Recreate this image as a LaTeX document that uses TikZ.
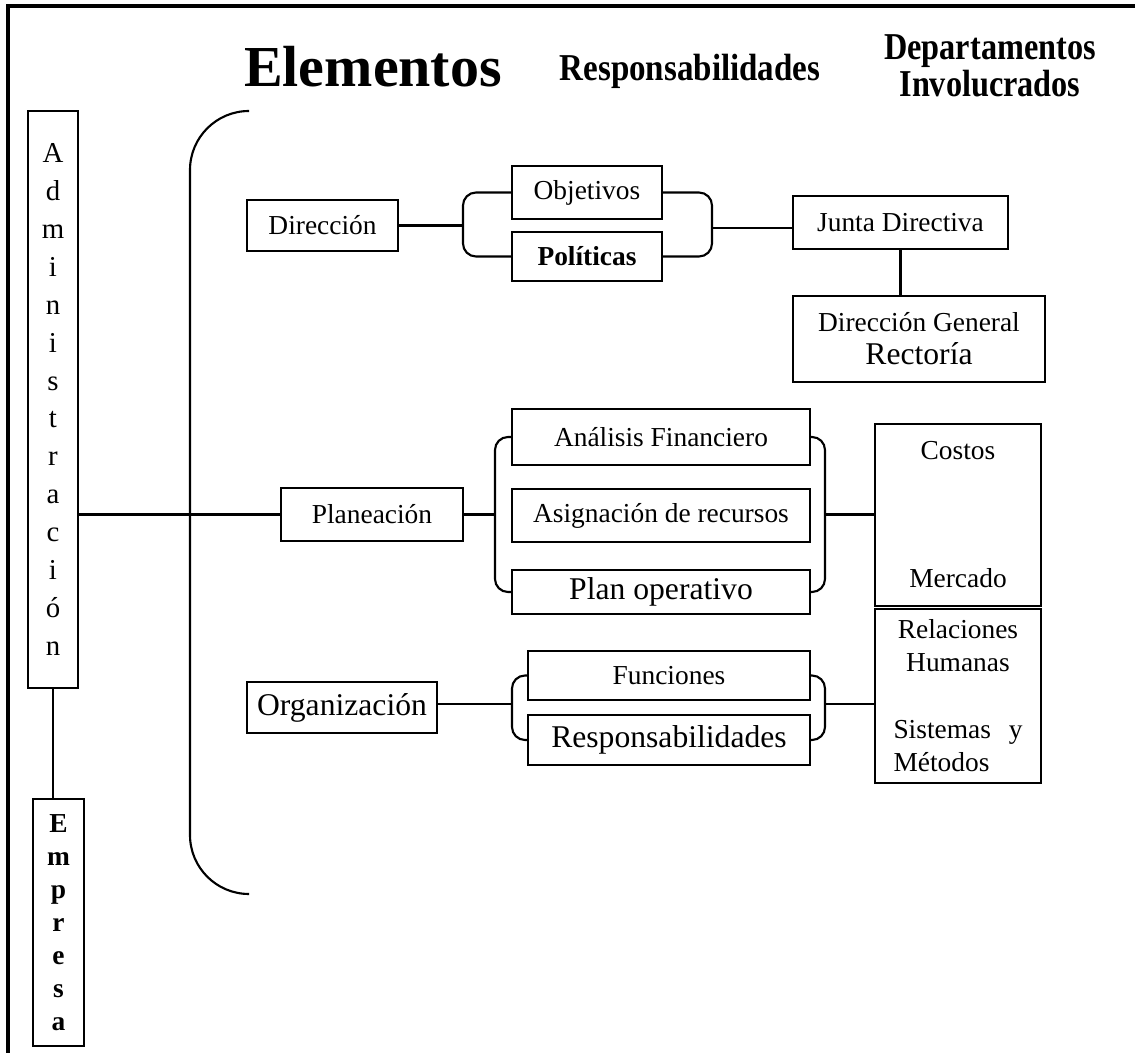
\documentclass[tikz,border=0pt]{standalone}
\usepackage{fontspec}
\setmainfont{Liberation Serif}
\newcommand\smtxt{\fontsize{7.8}{9.4}\selectfont}
\newcommand\bigtxt{\fontsize{9}{10.8}\selectfont}
\newcommand\headtxt{\bfseries\fontsize{10.8}{10.5}\selectfont}

\begin{document}
\begin{tikzpicture}[x=0.1mm,y=-0.1mm,
  box/.style={draw,line width=.6pt,inner sep=0pt,align=center,font=\smtxt},
  link/.style={line width=.6pt},
  brk/.style={line width=.6pt,rounded corners=1.3mm}]
\useasboundingbox (0,0) rectangle (1138,1053);
\draw[line width=.9pt] (1135,6) -- (8,6) -- (8,1053);
% titles
\node[anchor=base,font=\bfseries\fontsize{16.5}{18}\selectfont] (elem) at (373,87) {Elementos};
\node[anchor=base,font=\headtxt] (resph) at (690,81) {\scalebox{0.87}[1]{Responsabilidades}};
\node[anchor=base,font=\headtxt] (dep1) at (990,60) {\scalebox{0.85}[1]{Departamentos}};
\node[anchor=base,font=\headtxt] (dep2) at (990,97) {\scalebox{0.85}[1]{Involucrados}};
% left column
\node[box,minimum width=5mm,minimum height=57.7mm,font=\fontsize{8.2}{10.8}\selectfont] (admin) at (53,399.5)
  {A\\d\\m\\i\\n\\i\\s\\t\\r\\a\\c\\i\\ó\\n};
\node[box,minimum width=5.1mm,minimum height=24.7mm,font=\bfseries\fontsize{7.8}{9.4}\selectfont] (empresa) at (58.5,922.5)
  {E\\m\\p\\r\\e\\s\\a};
\draw[link] (admin.south) -- (admin.south |- empresa.north);
\draw[line width=.6pt,rounded corners=5.9mm] (248,111) -- (190,111) -- (190,894) -- (248,894);
% direccion
\node[box,minimum width=15.1mm,minimum height=5.1mm] (dir) at (322.5,225.5) {Dirección};
\node[box,minimum width=15mm,minimum height=5.3mm] (obj) at (587,192.5) {Objetivos};
\node[box,minimum width=15mm,minimum height=4.9mm,font=\smtxt\bfseries] (pol) at (587,256.5) {Políticas};
\node[box,minimum width=21.5mm,minimum height=5.3mm] (junta) at (900.5,222.5) {Junta Directiva};
\node[box,minimum width=25.2mm,minimum height=8.6mm] (dirgen) at (919,339) {Dirección General\\{\bigtxt Rectoría}};
\coordinate (dl) at (463,228);
\coordinate (dr) at (712,228);
\draw[link] (dir.east) -- (dir.east -| dl);
\draw[brk] (obj.west) -| (dl) |- (pol.west);
\draw[brk] (obj.east) -| (dr) |- (pol.east);
\draw[link] (dr) -- (dr -| junta.west);
\draw[link] (junta.south) -- (junta.south |- dirgen.north);
% planeacion
\node[box,minimum width=18.2mm,minimum height=5.3mm] (plan) at (372,514.5) {Planeación};
\node[box,minimum width=29.8mm,minimum height=5.6mm] (anal) at (661,437) {Análisis Financiero};
\node[box,minimum width=29.8mm,minimum height=5.3mm] (asig) at (661,515.5) {Asignación de recursos};
\node[box,minimum width=29.8mm,minimum height=4.4mm,font=\bigtxt] (plop) at (661,592) {Plan operativo};
\node[box,minimum width=16.6mm,minimum height=18.2mm] (costos) at (958,515) {Costos\\[27pt]Mercado};
\coordinate (pl) at (495,514.5);
\coordinate (pr) at (825,514.5);
\draw[link] (admin.east |- plan.west) -- (plan.west);
\draw[link] (plan.east) -- (pl);
\draw[brk] (anal.west) -| (pl) |- (plop.west);
\draw[brk] (anal.east) -| (pr) |- (plop.east);
\draw[link] (pr) -- (pr -| costos.west);
% organizacion
\node[box,minimum width=19mm,minimum height=5.1mm,font=\bigtxt] (org) at (342,707.5) {Organización};
\node[box,minimum width=28.2mm,minimum height=4.9mm] (func) at (669,675.5) {Funciones};
\node[box,minimum width=28.2mm,minimum height=5mm,font=\bigtxt] (resp) at (669,740) {Responsabilidades};
\node[box,minimum width=16.6mm,minimum height=17.4mm] (rel) at (958,696)
  {Relaciones\\Humanas\\[9.7pt]\makebox[12.9mm]{Sistemas\hfill y}\\\makebox[12.9mm][l]{Métodos}};
\coordinate (ol) at (512,704);
\coordinate (or) at (825,704);
\draw[link] (org.east |- ol) -- (ol);
\draw[brk] (func.west) -| (ol) |- (resp.west);
\draw[brk] (func.east) -| (or) |- (resp.east);
\draw[link] (or) -- (or -| rel.west);
\end{tikzpicture}
\end{document}
